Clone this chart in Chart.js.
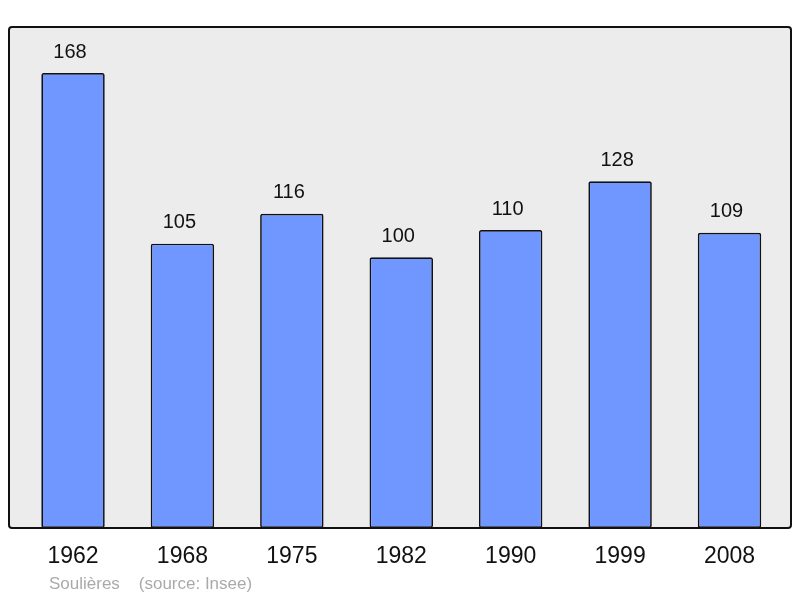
<!DOCTYPE html>
<html>
<head>
<meta charset="utf-8">
<script src="https://cdn.jsdelivr.net/npm/chart.js@4/dist/chart.umd.min.js"></script>
<style>
  html, body { margin: 0; padding: 0; background: #fff; }
  #wrap { width: 800px; height: 598px; }
</style>
</head>
<body>
<div id="wrap"><canvas id="popChart"></canvas></div>
<script>
'use strict';

const years = ['1962', '1968', '1975', '1982', '1990', '1999', '2008'];
const population = [168, 105, 116, 100, 110, 128, 109];
const sourceText = 'Soulières    (source: Insee)';

const ctx = document.getElementById('popChart').getContext('2d');

// gray panel behind the bars, border drawn over them
const panelPlugin = {
    id: 'panel',
    beforeDatasetsDraw(chart) {
        const {ctx, chartArea: a} = chart;
        ctx.save();
        ctx.beginPath();
        ctx.roundRect(a.left, a.top, a.right - a.left, a.bottom - a.top, 3);
        ctx.fillStyle = '#ececec';
        ctx.fill();
        ctx.restore();
    },
    afterDatasetsDraw(chart) {
        const {ctx, chartArea: a} = chart;
        ctx.save();
        ctx.beginPath();
        ctx.roundRect(a.left, a.top, a.right - a.left, a.bottom - a.top, 3);
        ctx.lineWidth = 2;
        ctx.strokeStyle = '#111';
        ctx.stroke();

        // value above each bar (sits a bit left of centre, like the original)
        const meta = chart.getDatasetMeta(0);
        ctx.font = '20px "Liberation Sans", Arial, sans-serif';
        ctx.fillStyle = '#111';
        ctx.textAlign = 'center';
        ctx.textBaseline = 'middle';
        meta.data.forEach((bar, i) => {
            ctx.fillText(String(population[i]), bar.x - 3, bar.y - 21);
        });

        // source line
        ctx.font = '17px "Liberation Sans", Arial, sans-serif';
        ctx.fillStyle = '#aaa';
        ctx.textAlign = 'left';
        ctx.fillText(sourceText, 49, 584);
        ctx.restore();
    }
};

new Chart(ctx, {
    type: 'bar',
    data: {
        datasets: [{
            data: population.map((v, i) => ({x: i, y: v})),
            backgroundColor: '#7096ff',
            borderColor: '#111',
            borderWidth: 1.7,
            borderRadius: 2,
            borderSkipped: false,
            barPercentage: 0.58,
            categoryPercentage: 1
        }]
    },
    options: {
        responsive: true,
        maintainAspectRatio: false,
        animation: false,
        layout: {padding: {left: 9, right: 9, top: 27, bottom: 0}},
        plugins: {legend: {display: false}, tooltip: {enabled: false}},
        scales: {
            x: {
                type: 'linear',
                offset: false,
                min: -0.585,
                max: 6.562,
                grid: {display: false, drawTicks: false},
                border: {display: false},
                afterBuildTicks: (scale) => {
                    scale.ticks = years.map((_, i) => ({value: i}));
                },
                afterFit: (scale) => { scale.height = 70; },
                ticks: {
                    padding: 15,
                    autoSkip: false,
                    maxRotation: 0,
                    color: '#111',
                    font: {family: '"Liberation Sans", Arial, sans-serif', size: 23},
                    callback: (value) => years[value]
                }
            },
            y: {
                display: false,
                min: 0,
                max: 185
            }
        }
    },
    plugins: [panelPlugin]
});
</script>
</body>
</html>
